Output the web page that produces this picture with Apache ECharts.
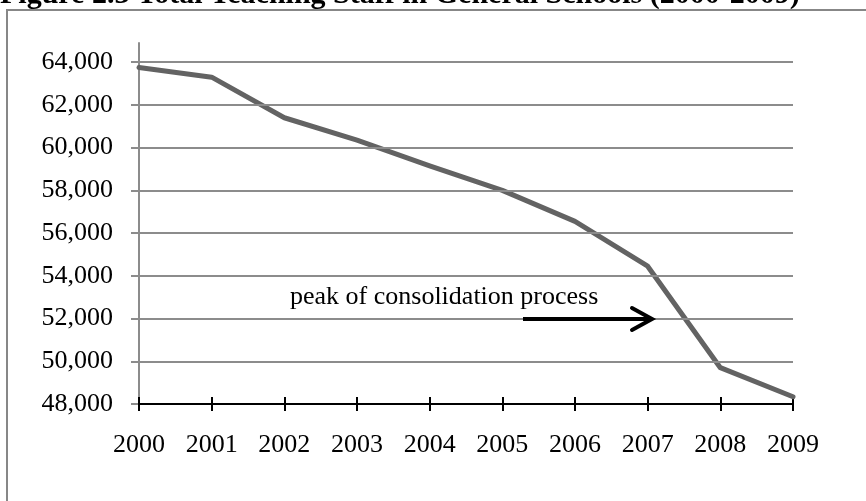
<!DOCTYPE html>
<html>
<head>
<meta charset="utf-8">
<title>Total Teaching Staff in General Schools (2000-2009)</title>
<script src="https://cdn.jsdelivr.net/npm/echarts@6/dist/echarts.min.js"></script>
<style>
  html, body { margin: 0; padding: 0; background: #fff; }
  #chart { width: 866px; height: 501px; }
</style>
</head>
<body>
<div id="chart"></div>
<script>
// Total teaching staff in general schools, by school year
var years = ['2000', '2001', '2002', '2003', '2004', '2005', '2006', '2007', '2008', '2009'];
var teachingStaff = [63750, 63300, 61400, 60350, 59150, 58000, 56550, 54450, 49700, 48340];
var yTicks = [48000, 50000, 52000, 54000, 56000, 58000, 60000, 62000, 64000];

var titleText = 'Figure 2.3 Total Teaching Staff in General Schools (2000-2009)';
var noteText = 'peak of consolidation process';

var serif = '"Liberation Serif", "Times New Roman", serif';

var chart = echarts.init(document.getElementById('chart'), null, { renderer: 'canvas' });

function fmt(v) {
  return v.toLocaleString('en-US');
}

chart.setOption({
  animation: false,
  backgroundColor: '#ffffff',
  grid: { left: 139, right: 73, top: 43, bottom: 97, containLabel: false },
  xAxis: [
    {
      type: 'category',
      data: years,
      boundaryGap: false,
      position: 'bottom',
      axisLine: { show: true, lineStyle: { color: '#000', width: 2 } },
      axisTick: { show: true, alignWithLabel: true, length: 7, lineStyle: { color: '#000', width: 2 } },
      axisLabel: { color: '#000', fontFamily: serif, fontSize: 26, margin: 28 },
      splitLine: { show: false }
    },
    {
      // inner half of the crossing tick marks
      type: 'category',
      data: years,
      boundaryGap: false,
      position: 'bottom',
      axisLine: { show: false },
      axisTick: { show: true, inside: true, length: 7, lineStyle: { color: '#000', width: 2 } },
      axisLabel: { show: false },
      splitLine: { show: false }
    }
  ],
  yAxis: {
    type: 'value',
    min: 48000,
    max: 64900,
    interval: 2000,
    axisLine: { show: true, lineStyle: { color: '#8c8c8c', width: 2 } },
    axisTick: { show: true, length: 8, customValues: yTicks, lineStyle: { color: '#8c8c8c', width: 2 } },
    axisLabel: {
      customValues: yTicks,
      color: '#000', fontFamily: serif, fontSize: 26, margin: 26,
      formatter: function (v) { return fmt(v); }
    },
    splitLine: { show: false }
  },
  series: [
    {
      // horizontal gridlines at the labelled values
      type: 'line',
      data: [],
      silent: true,
      markLine: {
        silent: true,
        symbol: 'none',
        label: { show: false },
        lineStyle: { color: '#8c8c8c', width: 2, type: 'solid' },
        data: yTicks.slice(1).map(function (v) { return { yAxis: v }; })
      },
      z: 1
    },
    {
      name: 'Teaching staff',
      type: 'line',
      data: teachingStaff,
      showSymbol: false,
      symbol: 'none',
      lineStyle: { color: '#636363', width: 5, join: 'round', cap: 'round' },
      z: 3
    }
  ],
  graphic: [
    {
      type: 'rect',
      shape: { x: 7, y: 10, width: 900, height: 600 },
      style: { fill: 'none', stroke: '#878787', lineWidth: 2 },
      silent: true,
      z: -1
    },
    {
      type: 'text',
      left: 0,
      top: -20,
      z: 100,
      style: {
        text: titleText,
        fill: '#000',
        font: 'bold 30px ' + serif
      }
    },
    {
      type: 'text',
      left: 290,
      top: 284,
      z: 100,
      style: {
        text: noteText,
        fill: '#000',
        font: '26px ' + serif
      }
    },
    {
      type: 'polyline',
      z: 100,
      shape: { points: [[523, 319], [650, 319]] },
      style: { stroke: '#000', lineWidth: 4, fill: null }
    },
    {
      type: 'polyline',
      z: 100,
      shape: { points: [[632, 308], [652, 319], [632, 330]] },
      style: { stroke: '#000', lineWidth: 4, fill: null, lineCap: 'round', lineJoin: 'miter' }
    }
  ]
});
</script>
</body>
</html>
